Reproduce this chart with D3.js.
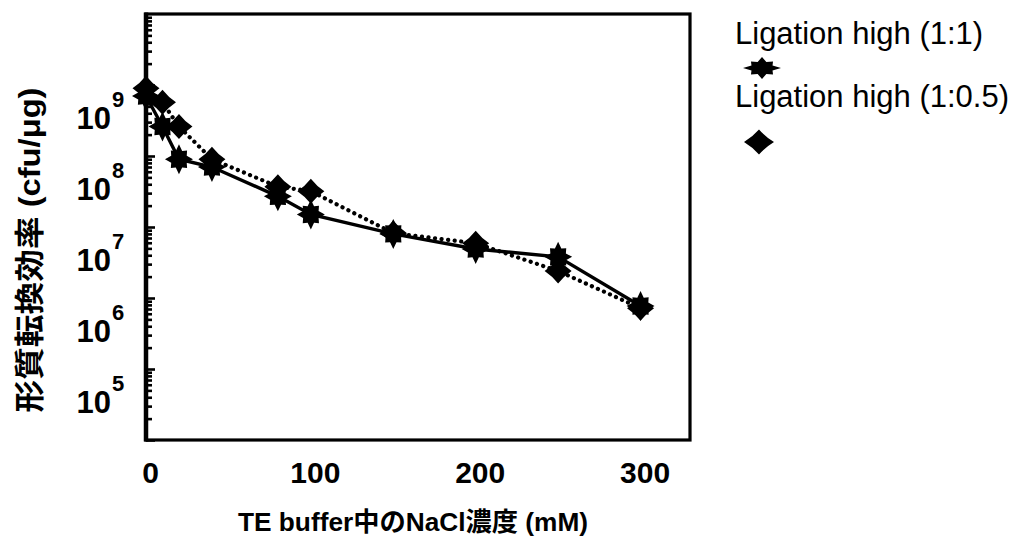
<!DOCTYPE html>
<html>
<head>
<meta charset="utf-8">
<script src="https://cdn.jsdelivr.net/npm/d3@7/dist/d3.min.js"></script>
<style>
  html, body { margin: 0; padding: 0; background: #fff; }
  svg { display: block; }
  text { font-family: "Liberation Sans", Arial, "Noto Sans CJK JP", sans-serif; fill: #000; }
</style>
</head>
<body>
<svg id="chart" width="1019" height="540"></svg>
<script>
// NaCl concentration in TE buffer (mM)
const nacl = [0, 10, 20, 40, 80, 100, 150, 200, 250, 300];
// Transformation efficiency (cfu/µg)
const ligation11 = [7e8, 2.6e8, 9e7, 7e7, 2.7e7, 1.5e7, 8e6, 4.9e6, 3.8e6, 7.7e5];
const ligation105 = [9e8, 5.7e8, 2.6e8, 9e7, 3.7e7, 3.2e7, 8.2e6, 5.9e6, 2.4e6, 7.2e5];
const seriesNames = ["Ligation high (1:1)", "Ligation high (1:0.5)"];
const xTicks = [0, 100, 200, 300];
const yDecades = [5, 6, 7, 8, 9];
const xTitle = "TE buffer中のNaCl濃度 (mM)";
const yTitle = "形質転換効率 (cfu/μg)";

const svg = d3.select("#chart");
const plotL = 146, plotR = 690, plotT = 14, plotB = 440;

const x = d3.scaleLinear().domain([0, 330]).range([plotL, plotR]);
const y = d3.scaleLog().domain([1e4, 1e10]).range([plotB, plotT]);

// 8-point star with longer spikes on the axes
function starPath(rx, ry) {
  const pts = [];
  for (let i = 0; i < 16; i++) {
    const a = i * Math.PI / 8 - Math.PI / 2;
    const r = i % 2 === 1 ? 0.6 : (i % 4 === 0 ? 1 : 0.82);
    pts.push([Math.cos(a) * r * rx, Math.sin(a) * r * ry]);
  }
  return "M" + pts.map(p => p[0].toFixed(2) + "," + p[1].toFixed(2)).join("L") + "Z";
}
// diamond with slightly concave sides
function diamondPath(w, h) {
  const c = 0.42;
  return `M0,${-h}Q${w*c},${-h*c} ${w},0Q${w*c},${h*c} 0,${h}Q${-w*c},${h*c} ${-w},0Q${-w*c},${-h*c} 0,${-h}Z`;
}

// plot frame
svg.append("rect")
  .attr("x", plotL).attr("y", plotT)
  .attr("width", plotR - plotL).attr("height", plotB - plotT)
  .attr("fill", "none").attr("stroke", "#000").attr("stroke-width", 3.2);
svg.append("line")
  .attr("x1", plotL).attr("x2", plotL).attr("y1", plotT - 1.5).attr("y2", plotB + 1.5)
  .attr("stroke", "#000").attr("stroke-width", 4.5);

// left axis: inward major and minor ticks
const yTickVals = [];
for (let d = 4; d < 10; d++) {
  for (let m = 1; m <= 9; m++) yTickVals.push(m * Math.pow(10, d));
}
const yAxis = d3.axisRight(y)
  .tickValues(yTickVals)
  .tickSize(0)
  .tickFormat("");
const gy = svg.append("g").attr("transform", `translate(${plotL},0)`).call(yAxis);
gy.select(".domain").remove();
gy.selectAll(".tick").append("line")
  .attr("x1", 0)
  .attr("x2", d => (Math.abs(Math.log10(d) - Math.round(Math.log10(d))) < 1e-9) ? 9 : 6)
  .attr("stroke", "#000").attr("stroke-width", 2.6);

// y tick labels: 10 with superscript exponent
const yLab = svg.append("g");
yDecades.forEach(k => {
  const ty = y(Math.pow(10, k));
  yLab.append("text")
    .attr("x", 111).attr("y", ty + 44)
    .attr("text-anchor", "end")
    .attr("font-size", 31).attr("font-weight", "bold")
    .text("10");
  yLab.append("text")
    .attr("x", 112).attr("y", ty + 22)
    .attr("font-size", 22).attr("font-weight", "bold")
    .text(String(k));
});

// x tick labels
const xAxis = d3.axisBottom(x).tickValues(xTicks).tickSize(0).tickPadding(0);
const gx = svg.append("g").attr("transform", `translate(4,${plotB})`).call(xAxis);
gx.select(".domain").remove();
gx.selectAll(".tick text")
  .attr("dy", null).attr("y", 43)
  .attr("font-size", 30).attr("font-weight", "bold")
  .attr("font-family", "\"Liberation Sans\", Arial, sans-serif")
  .attr("fill", "#000");

// axis titles
svg.append("text")
  .attr("x", 413).attr("y", 531)
  .attr("text-anchor", "middle")
  .attr("font-size", 26).attr("font-weight", "bold")
  .attr("textLength", 350).attr("lengthAdjust", "spacingAndGlyphs")
  .text(xTitle);
svg.append("text")
  .attr("transform", "translate(40,250) rotate(-90)")
  .attr("text-anchor", "middle")
  .attr("font-size", 30).attr("font-weight", "bold")
  .attr("textLength", 325).attr("lengthAdjust", "spacingAndGlyphs")
  .text(yTitle);

// series lines
const line = d3.line().x(d => x(d[0])).y(d => y(d[1]));
const pts11 = nacl.map((n, i) => [n, ligation11[i]]);
const pts105 = nacl.map((n, i) => [n, ligation105[i]]);

svg.append("path").datum(pts105)
  .attr("d", line).attr("fill", "none")
  .attr("stroke", "#000").attr("stroke-width", 4.2)
  .attr("stroke-linecap", "round")
  .attr("stroke-dasharray", "0.1 6.5");
svg.append("path").datum(pts11)
  .attr("d", line).attr("fill", "none")
  .attr("stroke", "#000").attr("stroke-width", 3.4);

// markers
svg.append("g").selectAll("path").data(pts105).join("path")
  .attr("transform", d => `translate(${x(d[0])},${y(d[1])})`)
  .attr("d", diamondPath(13.5, 12.5))
  .attr("fill", "#000");
svg.append("g").selectAll("path").data(pts11).join("path")
  .attr("transform", d => `translate(${x(d[0])},${y(d[1])})`)
  .attr("d", starPath(14, 15))
  .attr("fill", "#000");

// legend
const lg = svg.append("g");
lg.append("text").attr("x", 735).attr("y", 44)
  .attr("font-size", 31).text(seriesNames[0]);
lg.append("path").attr("transform", "translate(762,68)")
  .attr("d", starPath(19, 11)).attr("fill", "#000");
lg.append("text").attr("x", 735).attr("y", 107)
  .attr("font-size", 31).text(seriesNames[1]);
lg.append("path").attr("transform", "translate(759,142)")
  .attr("d", diamondPath(15, 12.5)).attr("fill", "#000");
</script>
</body>
</html>
